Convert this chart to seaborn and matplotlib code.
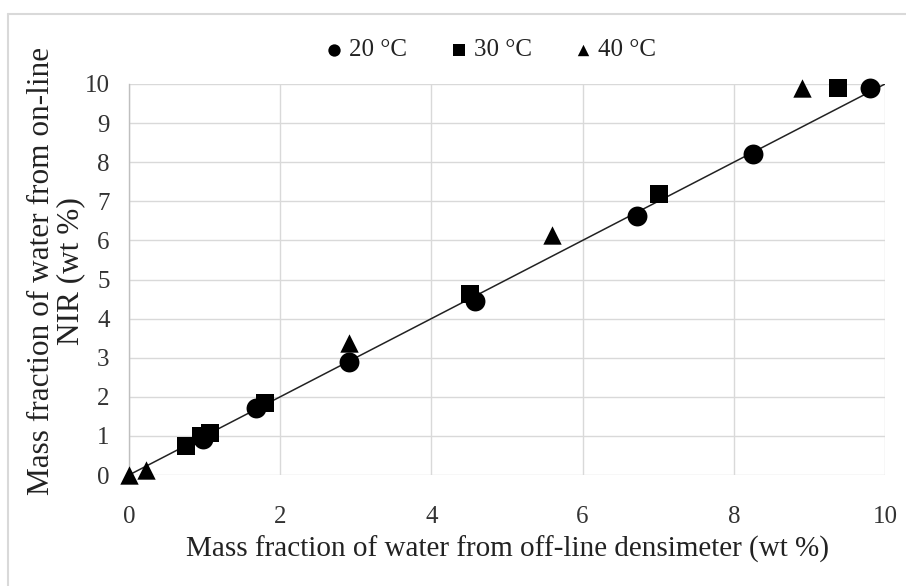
import matplotlib
matplotlib.use("Agg")
import matplotlib.pyplot as plt
import seaborn as sns
import pandas as pd
from matplotlib.lines import Line2D

# Data
x20 = [9.80, 8.25, 6.72, 4.58, 2.91, 1.68, 0.98]
y20 = [9.90, 8.22, 6.63, 4.45, 2.89, 1.71, 0.92]
x30 = [9.38, 7.01, 4.51, 1.80, 1.07, 0.95, 0.76]
y30 = [9.90, 7.19, 4.62, 1.84, 1.07, 1.00, 0.74]
x40 = [8.90, 5.60, 2.91, 0.22, 0.0]
y40 = [9.89, 6.15, 3.38, 0.12, 0.0]
series = ["20 °C", "30 °C", "40 °C"]
line_x = [0, 10]
line_y = [0, 10]
xticks = [0, 2, 4, 6, 8, 10]
yticks = list(range(0, 11))

df = pd.DataFrame({
    "x": x20 + x30 + x40,
    "y": y20 + y30 + y40,
    "T": [series[0]] * len(x20) + [series[1]] * len(x30) + [series[2]] * len(x40),
})

sns.set_style("white")
plt.rcParams["font.family"] = ["Liberation Serif", "DejaVu Serif"]

fig = plt.figure(figsize=(9.06, 5.86), dpi=100)
ax = fig.add_axes([129 / 906, 1 - 475 / 586, (885 - 129) / 906, (475 - 84) / 586])

ax.plot(line_x, line_y, color="#222222", lw=1.1, zorder=2)

markers = {series[0]: "o", series[1]: "s", series[2]: "^"}
sizes = {series[0]: 205, series[1]: 180, series[2]: 175}
for s in series:
    sub = df[df["T"] == s]
    sns.scatterplot(data=sub, x="x", y="y", marker=markers[s], s=sizes[s],
                    color="black", edgecolor="black", linewidth=0, ax=ax,
                    label=s, zorder=3, clip_on=False)

ax.set_xlim(0, 10)
ax.set_ylim(0, 10)
ax.set_xticks(xticks)
ax.set_yticks(yticks)
ax.grid(True, color="#d9d9d9", lw=1.0)
ax.set_axisbelow(True)
for sp in ["top", "right", "bottom"]:
    ax.spines[sp].set_visible(False)
ax.spines["left"].set_color("#bfbfbf")
ax.spines["left"].set_linewidth(1.0)
ax.tick_params(axis="both", length=0, labelsize=18, colors="#333333")
ax.tick_params(axis="y", pad=14)
ax.tick_params(axis="x", pad=22)

ax.set_xlabel("Mass fraction of water from off-line densimeter (wt %)", fontsize=21,
              color="#222222", labelpad=6)
ax.set_ylabel("Mass fraction of water from on-line\nNIR (wt %)", fontsize=22.5,
              color="#222222", linespacing=1.0)
ax.yaxis.set_label_coords(-0.058, 0.522)

leg = ax.legend(loc="lower center", bbox_to_anchor=(0.477, 1.0), ncol=3, frameon=False,
                fontsize=18, handletextpad=0.15, columnspacing=1.6, markerscale=0.62,
                handlelength=0.9, labelcolor="#222222")

# outer light border (top and left)
fig.add_artist(Line2D([8 / 906, 1], [1 - 14 / 586, 1 - 14 / 586], color="#d9d9d9", lw=1.5,
                      transform=fig.transFigure))
fig.add_artist(Line2D([8 / 906, 8 / 906], [0, 1 - 14 / 586], color="#d9d9d9", lw=1.5,
                      transform=fig.transFigure))

fig.savefig("out.png", dpi=100)
